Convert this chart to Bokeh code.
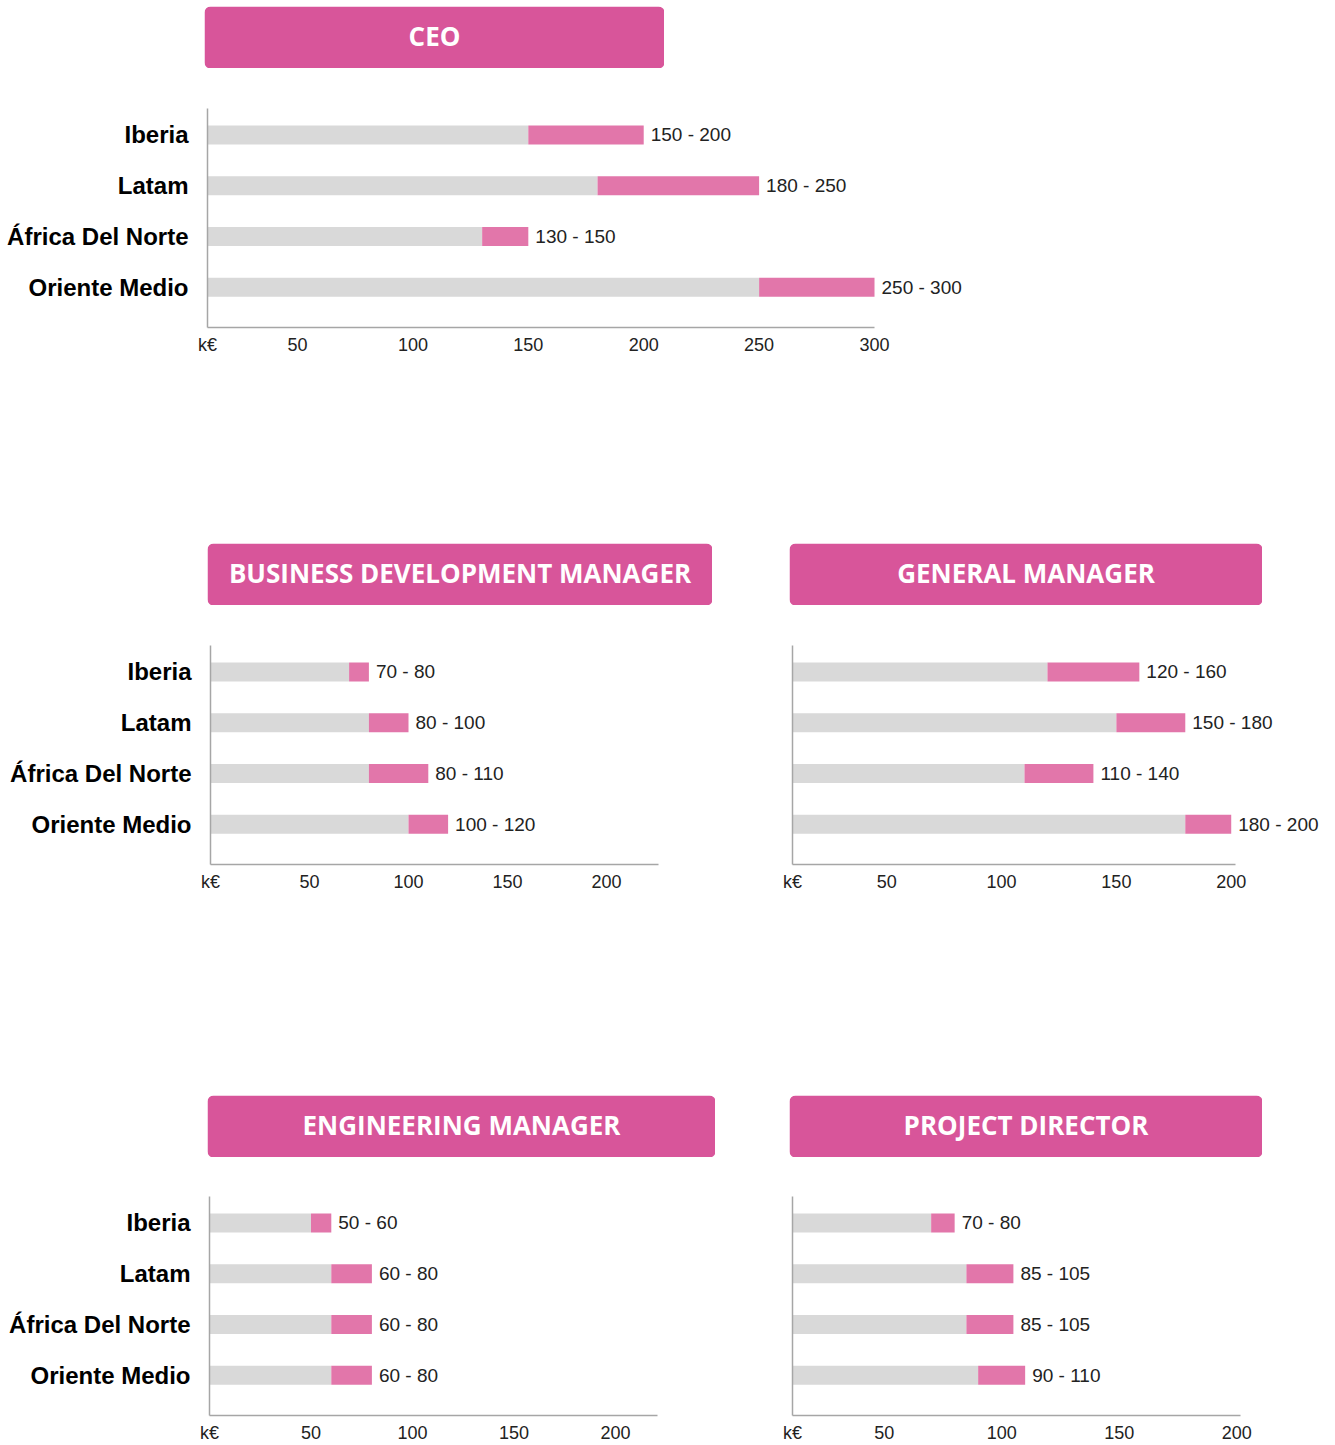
from bokeh.plotting import figure
from bokeh.models import Range1d, FixedTicker, Spacer
from bokeh.layouts import column, row
from bokeh.embed import file_html
from bokeh.resources import INLINE
from bokeh.core.properties import value

# ---------------- data ----------------
REGIONS = ["Iberia", "Latam", "África Del Norte", "Oriente Medio"]

CEO_TITLE = "CEO"
CEO_LOW = [150, 180, 130, 250]
CEO_HIGH = [200, 250, 150, 300]

BDM_TITLE = "BUSINESS DEVELOPMENT MANAGER"
BDM_LOW = [70, 80, 80, 100]
BDM_HIGH = [80, 100, 110, 120]

GM_TITLE = "GENERAL MANAGER"
GM_LOW = [120, 150, 110, 180]
GM_HIGH = [160, 180, 140, 200]

EM_TITLE = "ENGINEERING MANAGER"
EM_LOW = [50, 60, 60, 60]
EM_HIGH = [60, 80, 80, 80]

PD_TITLE = "PROJECT DIRECTOR"
PD_LOW = [70, 85, 85, 90]
PD_HIGH = [80, 105, 105, 110]

UNIT_LABEL = "k€"
TICKS_300 = [50, 100, 150, 200, 250, 300]
TICKS_200 = [50, 100, 150, 200]

# ---------------- style ----------------
HEADER_COLOR = "#D8559A"
PINK = "#E276AA"
GREY = "#D9D9D9"
AXIS_COLOR = "#A6A6A6"
TEXT_COLOR = "#222222"
FRAME_H = 219
BOTTOM = 60
Y_START, Y_END = 0.206, 4.52
BAR_H = 0.374
NUM_FONT = "Liberation Sans"


def header(text, w, h=62):
    p = figure(width=w, height=h, x_range=Range1d(0, 1), y_range=Range1d(0, 1),
               x_axis_type=None, y_axis_type=None, output_backend="svg",
               toolbar_location=None, min_border=0, title=None)
    p.grid.visible = False
    p.outline_line_color = None
    p.quad(left=0, right=1, bottom=0, top=1, fill_color=HEADER_COLOR,
           line_color=None, border_radius=6)
    p.text(x=[0.5], y=[0.5], text=[text], text_align="center",
           text_baseline="middle", text_color="white", y_offset=-2,
           text_font=value("Open Sans"), text_font_size="26px",
           text_font_style="bold")
    return p


def chart(low, high, x0, ppu, axis_end, ticks, fig_w, left, right_border,
          show_regions, bottom=BOTTOM):
    frame_w = fig_w - left - right_border
    x1 = x0 + frame_w / ppu
    p = figure(width=fig_w, height=FRAME_H + bottom,
               x_range=Range1d(x0, x1), y_range=Range1d(Y_START, Y_END),
               min_border_left=left, min_border_right=right_border,
               min_border_top=0, min_border_bottom=bottom,
               output_backend="svg", toolbar_location=None, title=None)
    p.grid.visible = False
    p.outline_line_color = None

    ys = [len(REGIONS) - i for i in range(len(REGIONS))]
    p.hbar(y=ys, left=x0, right=low, height=BAR_H, fill_color=GREY,
           line_color=None)
    p.hbar(y=ys, left=low, right=high, height=BAR_H, fill_color=PINK,
           line_color=None)
    labels = [f"{lo} - {hi}" for lo, hi in zip(low, high)]
    p.text(x=high, y=ys, text=labels, x_offset=7, text_align="left",
           text_baseline="middle", text_color=TEXT_COLOR,
           text_font=value(NUM_FONT), text_font_size="19px")

    xa = p.xaxis[0]
    xa.ticker = FixedTicker(ticks=[x0] + ticks)
    xa.major_label_overrides = {x0: UNIT_LABEL}
    xa.bounds = (x0, axis_end)
    xa.axis_line_color = AXIS_COLOR
    xa.axis_line_width = 1.5
    xa.major_tick_out = 0
    xa.major_tick_in = 0
    xa.minor_tick_out = 0
    xa.minor_tick_in = 0
    xa.major_label_standoff = 7
    xa.major_label_text_font = NUM_FONT
    xa.major_label_text_font_size = "18px"
    xa.major_label_text_color = TEXT_COLOR

    ya = p.yaxis[0]
    if show_regions:
        ya.ticker = FixedTicker(ticks=ys)
        ya.major_label_overrides = {y: r for y, r in zip(ys, REGIONS)}
    else:
        ya.ticker = FixedTicker(ticks=[])
    ya.axis_line_color = AXIS_COLOR
    ya.axis_line_width = 1.5
    ya.major_tick_out = 0
    ya.major_tick_in = 0
    ya.minor_tick_out = 0
    ya.minor_tick_in = 0
    ya.major_label_standoff = 19
    ya.major_label_text_font = "Liberation Sans"
    ya.major_label_text_font_style = "bold"
    ya.major_label_text_font_size = "24px"
    ya.major_label_text_color = "black"
    return p


ceo_h = header(CEO_TITLE, 460)
ceo_c = chart(CEO_LOW, CEO_HIGH, 11, 2.308, 300, TICKS_300, 1335, 207, 10, True)

bdm_h = header(BDM_TITLE, 505)
gm_h = header(GM_TITLE, 473)
bdm_c = chart(BDM_LOW, BDM_HIGH, 0, 1.98, 226.2, TICKS_200, 720, 210, 10, True)
gm_c = chart(GM_LOW, GM_HIGH, 9, 2.297, 202, TICKS_200, 615, 72, 5, False)

em_h = header(EM_TITLE, 508)
pd_h = header(PD_TITLE, 473)
em_c = chart(EM_LOW, EM_HIGH, 0, 2.03, 220.7, TICKS_200, 720, 209, 10, True, bottom=30)
pd_c = chart(PD_LOW, PD_HIGH, 11, 2.35, 201.6, TICKS_200, 615, 72, 5, False, bottom=30)

layout = column(
    Spacer(height=6),
    row(Spacer(width=204), ceo_h),
    Spacer(height=40),
    ceo_c,
    Spacer(height=156),
    row(Spacer(width=207), bdm_h, Spacer(width=77), gm_h),
    Spacer(height=40),
    row(bdm_c, gm_c),
    Spacer(height=171),
    row(Spacer(width=207), em_h, Spacer(width=74), pd_h),
    Spacer(height=39),
    row(em_c, pd_c),
)

open("out.html", "w").write(file_html(layout, INLINE))
